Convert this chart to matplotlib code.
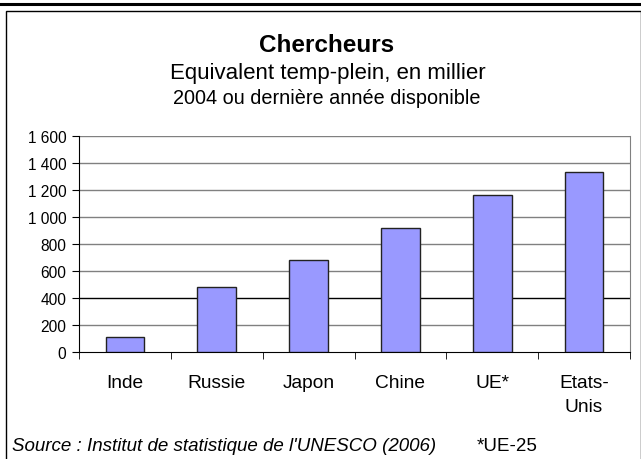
import matplotlib.pyplot as plt
from matplotlib.lines import Line2D
from matplotlib.patches import Rectangle
import numpy as np

pays = ["Inde", "Russie", "Japon", "Chine", "UE*", "Etats-\nUnis"]
chercheurs = [111, 481, 681, 918, 1163, 1336]
yticks = [0, 200, 400, 600, 800, 1000, 1200, 1400, 1600]
ytick_labels = ["0", "200", "400", "600", "800", "1 000", "1 200", "1 400", "1 600"]

plt.rcParams['font.family'] = ['Liberation Sans', 'DejaVu Sans']

W, H = 641, 460
fig = plt.figure(figsize=(W / 100, H / 100), dpi=100)

# cadre autour du graphique
fig.add_artist(Line2D([0, 1], [1 - 4.5 / H, 1 - 4.5 / H], color="black", lw=2.2))
fig.add_artist(Rectangle((6 / W, -0.05), (W - 6.5) / W, 1 - 12 / H + 0.05,
                         fill=False, edgecolor="black", lw=1.0))

ax = fig.add_axes([79 / W, (H - 353) / H, (630 - 79) / W, (353 - 137) / H])
x = np.arange(len(pays))
for y in yticks[1:]:
    ax.axhline(y, color="black" if y == 400 else "#808080", lw=1.0, zorder=1)
ax.bar(x, chercheurs, width=0.42, color="#9999FF", edgecolor="#222222",
       linewidth=1.0, zorder=3)

ax.set_xlim(-0.5, len(pays) - 0.5)
ax.set_ylim(0, 1600)
ax.set_yticks(yticks)
ax.set_yticklabels(ytick_labels, fontsize=11.2)
ax.set_xticks(x)
ax.set_xticklabels(pays, fontsize=13.8, linespacing=1.55)
ax.set_xticks(np.arange(-0.5, len(pays)), minor=True)
ax.tick_params(axis="x", which="major", length=0, pad=16)
ax.tick_params(axis="x", which="minor", length=5, direction="out", color="black")
ax.tick_params(axis="y", length=5, direction="out", pad=4)
ax.spines["top"].set_visible(False)
ax.spines["right"].set_color("#808080")
ax.spines["left"].set_color("black")
ax.spines["bottom"].set_color("black")

fig.text(327 / W, 1 - 45 / H, "Chercheurs", ha="center", va="center",
         fontsize=17.5, fontweight="bold")
fig.text(328 / W, 1 - 74 / H, "Equivalent temp-plein, en millier", ha="center",
         va="center", fontsize=16)
fig.text(327 / W, 1 - 99 / H, "2004 ou dernière année disponible", ha="center",
         va="center", fontsize=14.3)
fig.text(12 / W, 1 - 447 / H, "Source : Institut de statistique de l'UNESCO (2006)",
         ha="left", va="center", fontsize=13.5, style="italic")
fig.text(477 / W, 1 - 447 / H, "*UE-25", ha="left", va="center", fontsize=13.5)

plt.savefig("out.png", dpi=100)
plt.close()
